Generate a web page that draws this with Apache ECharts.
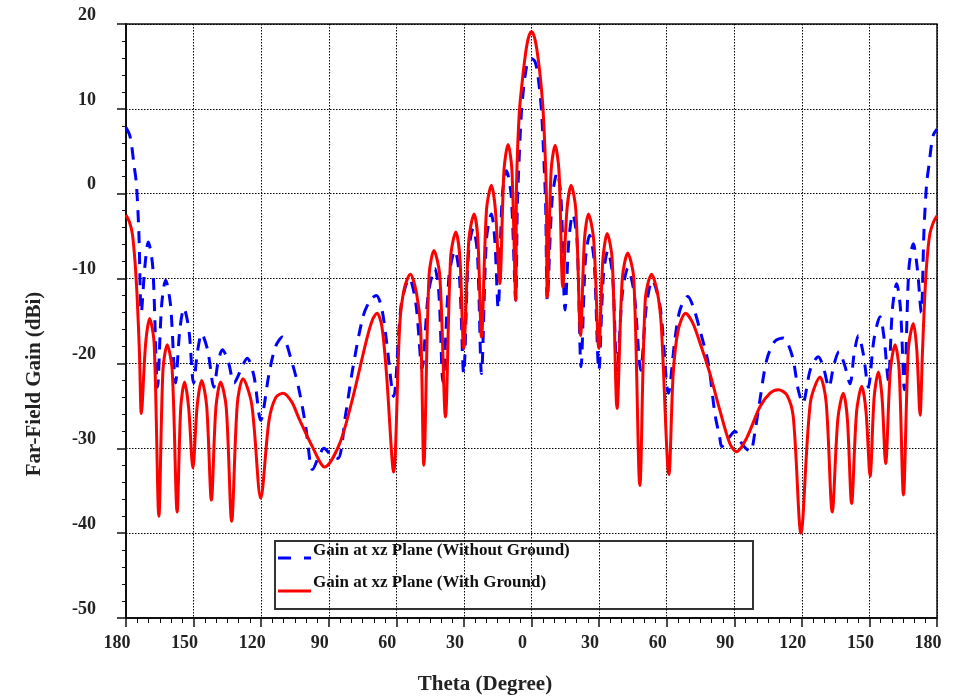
<!DOCTYPE html>
<html>
<head>
<meta charset="utf-8">
<script src="https://cdn.jsdelivr.net/npm/echarts@6/dist/echarts.min.js"></script>
<style>
html,body{margin:0;padding:0;background:#fff;}
#chart{width:959px;height:697px;}
</style>
</head>
<body>
<div id="chart"></div>
<script>
// ---- data (theta in degrees, gain in dBi) ----
const seriesNames = ['Gain at xz Plane (Without Ground)', 'Gain at xz Plane (With Ground)'];
const seriesColors = ['#0000ff', '#ff0000'];

const withoutGround = [
  [-180,7.8],[-178.5,7.0],[-177.6,5.9],[-176.5,3.5],[-175.4,1.2],[-174.3,-4.5],[-173.2,-14],
  [-171.6,-8.5],[-170.1,-5.7],[-168.1,-8.7],[-166,-22.8],
  [-164.2,-13.2],[-162.4,-10.2],[-160.2,-13.2],[-158,-22.3],
  [-156.1,-16.0],[-154.3,-13.5],[-152.1,-16.0],[-150,-22.3],
  [-148.2,-18.5],[-146.4,-16.5],[-143.7,-18.5],[-141,-22.8],
  [-139.1,-19.8],[-137.2,-18.4],[-134.6,-19.8],[-132,-22.3],
  [-129.1,-20.8],[-126.2,-19.4],[-123.2,-21.5],[-120.2,-26.7],
  [-116.5,-21.2],[-113.6,-18.0],[-110.6,-16.9],[-106.2,-20.0],[-103.2,-23.1],[-100.2,-27.5],[-98,-32.2],[-97.3,-32.5],[-94.5,-31],[-92.1,-30],[-89,-30.8],[-85.9,-31.2],
  [-82.5,-26],[-79.2,-20.4],[-74.8,-14.5],[-71.5,-12.5],[-68.9,-12.0],[-66.5,-13.5],[-64.4,-17.3],[-61.2,-23.9],
  [-57.8,-13],[-54.2,-10.0],[-51.3,-13],[-48.6,-20.6],
  [-45.8,-11.8],[-42.9,-8.8],[-41.1,-11.8],[-39.3,-22.2],
  [-36.6,-9.7],[-34,-6.7],[-32,-9.7],[-30.1,-21.2],
  [-28,-7.1],[-25.9,-4.1],[-24,-7.1],[-22.2,-21.2],
  [-20,-5.4],[-17.8,-2.4],[-16.3,-5.4],[-14.8,-13.5],
  [-13,-0.3],[-11.1,2.7],[-9.0,-0.3],[-7.0,-12.5],
  [-6.3,-1.5],[-5.5,4],[-4.5,9.5],[-3.5,12.5],[-2.5,14.5],[-1.5,15.6],[0,15.9],[1.5,15.6],[2.5,14.5],[3.5,12.5],[4.5,9.5],[5.5,4],[6.3,-1.5],[7.0,-12.5],
  [9.2,-0.5],[11.4,2.5],[13.1,-0.5],[14.9,-13.7],
  [16.6,-5.4],[18.3,-2.4],[20.2,-5.4],[22.0,-20.4],
  [23.9,-7.9],[25.8,-4.9],[27.8,-7.9],[29.9,-20.8],
  [31.9,-9.7],[33.9,-6.7],[36,-9.7],[38.0,-21.2],
  [40.3,-11.8],[42.8,-8.8],[45.6,-11.8],[48.5,-20.8],
  [51,-13.2],[53.6,-10.2],[57.2,-13.5],[60.8,-23.5],
  [63.6,-17.3],[65.9,-13.7],[69.4,-12.1],[72,-13.5],[74.8,-16.1],[78.5,-20],[81.4,-25.9],[83.6,-28.8],[84.4,-29.8],[87.5,-28.8],[90.3,-28.0],[93.5,-29.5],[97,-30.4],
  [99.5,-27.5],[101.4,-24.3],[104.4,-19.6],[108,-17.4],[111.8,-17.0],[114,-17.8],[116.2,-19.6],[118.4,-23.1],[120.4,-24.7],
  [123.8,-20.7],[127.3,-19.2],[129.6,-20.5],[132,-22.8],
  [134.2,-20.2],[136.5,-18.6],[139,-20.2],[141.4,-22.4],
  [143.2,-18.9],[145.1,-16.7],[147.3,-18.9],[149.5,-22.8],
  [152,-17.2],[154.7,-14.5],[156.6,-17.2],[158.4,-22.0],
  [160.2,-13.6],[162.1,-10.6],[163.8,-13.6],[165.5,-23.1],
  [167.5,-8.9],[169.5,-5.9],[171.3,-8.9],[173,-14],
  [174.2,-4.5],[175.4,1.2],[176.5,3.5],[177.6,5.9],[178.5,7.0],[180,7.6]
];

const withGround = [
  [-180,-2.5],[-178.5,-3.3],[-177.2,-4.7],[-176,-8],[-175,-12.5],[-174,-19],[-173.2,-25.9],
  [-171.3,-17.7],[-169.5,-14.7],[-167.5,-17.7],[-165.4,-38],
  [-163.6,-20.8],[-161.7,-17.8],[-159.5,-20.8],[-157.3,-37.5],
  [-155.7,-25.2],[-154,-22.2],[-152.2,-25.2],[-150.3,-32.3],
  [-148.4,-25],[-146.4,-22],[-144.2,-25],[-142.1,-36.1],
  [-140.1,-25.2],[-138,-22.2],[-135.5,-25.2],[-133.1,-38.6],
  [-130.6,-24.8],[-128.1,-21.8],[-124.2,-24.8],[-120.2,-35.9],
  [-116.5,-26.7],[-113.5,-24],[-110.3,-23.5],[-106.5,-24.5],[-103.2,-26.5],[-97.3,-29.8],[-91.8,-32.2],
  [-85.1,-29.4],[-79.2,-23.9],[-73.3,-17.3],[-70.5,-14.8],[-68.6,-14.1],[-66.5,-15.5],[-64.4,-21.1],[-61.2,-32.8],
  [-58.5,-15.5],[-56.5,-11.2],[-53.8,-9.5],[-51,-11.8],[-49.2,-16],[-47.8,-32],
  [-45.5,-9.7],[-43.3,-6.7],[-40.7,-9.7],[-38.2,-26.3],
  [-35.9,-7.5],[-33.6,-4.5],[-31.8,-7.5],[-30.1,-18.2],
  [-27.8,-5.4],[-25.5,-2.4],[-23.8,-5.4],[-22.2,-16.9],
  [-20,-2],[-17.8,1],[-16,-2],[-14.1,-10.6],
  [-12.2,2.8],[-10.4,5.8],[-8.7,2.8],[-7,-12.6],
  [-6.7,0],[-6.2,5],[-5.3,10],[-4,13.5],[-3,15.8],[-2,17.6],[-1,18.7],[0,19.1],[1,18.7],[2,17.6],[3,15.8],[4,13.5],[5.1,10],[6,5],[6.6,0],
  [7,-12.2],[8.7,2.7],[10.5,5.7],[12.2,2.7],[13.9,-11],
  [15.7,-2],[17.6,1],[19.7,-2],[21.8,-16.7],
  [23.5,-5.4],[25.3,-2.4],[27.6,-5.4],[29.9,-18.2],
  [31.7,-7.7],[33.6,-4.7],[35.8,-7.7],[38,-25.3],
  [40.3,-10],[42.7,-7],[45.4,-10],[48.1,-34.4],
  [50.5,-12.5],[53.3,-9.5],[55.8,-11.5],[57.6,-15.5],[61,-33.1],
  [62.9,-21.2],[65.1,-16.1],[68.4,-14.1],[71.5,-15.2],[74.8,-17.6],[79.2,-21.2],[83.6,-25.5],[88,-29.4],[91,-30.4],
  [95.5,-28.8],[101.4,-25.1],[105.9,-23.5],[109.5,-23.1],[113.3,-23.7],[116.2,-26.3],[119.6,-40],
  [123.8,-24.6],[128.1,-21.6],[130.8,-24.6],[133.5,-37.5],
  [136,-26.5],[138.4,-23.5],[140.2,-26.5],[142.1,-36.5],
  [144.3,-25.7],[146.6,-22.7],[148.5,-25.7],[150.3,-33.3],
  [152.1,-24],[154,-21],[155.6,-24],[157.2,-31.8],
  [159.3,-20.8],[161.4,-17.8],[163.2,-20.8],[165.1,-35.5],
  [167.3,-18.3],[169.5,-15.3],[171,-18.3],[172.5,-26.1],
  [173.5,-19],[174.5,-12.5],[175.5,-8],[176.8,-4.8],[178.5,-3.3],[180,-2.6]
];

const xRange = [-180, 180, 30];   // min, max, interval
const yRange = [-50, 20, 10];
const xTitle = 'Theta (Degree)';
const yTitle = 'Far-Field Gain (dBi)';

// ---- chart ----
const FONT = '"Liberation Serif", "Times New Roman", serif';
const chart = echarts.init(document.getElementById('chart'), null, {renderer: 'canvas'});
const gridLine = {show: true, lineStyle: {color: '#000', width: 1, type: [1.5, 1.5]}};
const legendText = {fontFamily: FONT, fontWeight: 'bold', fontSize: 17, fill: '#111', align: 'left', verticalAlign: 'middle'};

chart.setOption({
  animation: false,
  backgroundColor: '#fff',
  grid: {left: 126, right: 22, top: 24, bottom: 79, show: true, borderColor: '#111', borderWidth: 1.5, backgroundColor: 'transparent'},
  xAxis: {
    type: 'value', min: xRange[0], max: xRange[1], interval: xRange[2],
    axisLine: {show: true, onZero: false, lineStyle: {color: '#111', width: 2}},
    axisTick: {show: true, length: 9, lineStyle: {color: '#111', width: 1.5}},
    minorTick: {show: true, splitNumber: 6, length: 5, lineStyle: {color: '#111', width: 1}},
    splitLine: gridLine,
    axisLabel: {
      formatter: v => String(Math.abs(v)),
      fontFamily: FONT, fontWeight: 'bold', fontSize: 18, color: '#222',
      margin: 16, padding: [0, 18, 0, 0]
    }
  },
  yAxis: {
    type: 'value', min: yRange[0], max: yRange[1], interval: yRange[2],
    axisLine: {show: true, onZero: false, lineStyle: {color: '#111', width: 2}},
    axisTick: {show: true, length: 9, lineStyle: {color: '#111', width: 1.5}},
    minorTick: {show: true, splitNumber: 5, length: 4, lineStyle: {color: '#111', width: 1}},
    splitLine: gridLine,
    axisLabel: {
      fontFamily: FONT, fontWeight: 'bold', fontSize: 18, color: '#222',
      margin: 30, verticalAlign: 'bottom'
    }
  },
  legend: {show: false, data: seriesNames},
  graphic: [
    {type: 'group', z: 20, children: [
      {type: 'rect', shape: {x: 275, y: 541, width: 478, height: 68},
       style: {fill: '#fff', stroke: '#333', lineWidth: 2}},
      {type: 'line', shape: {x1: 278, y1: 558, x2: 311, y2: 558},
       style: {stroke: seriesColors[0], lineWidth: 3, lineDash: [13, 13]}},
      {type: 'text', x: 313, y: 551, style: Object.assign({text: seriesNames[0]}, legendText)},
      {type: 'line', shape: {x1: 278, y1: 591, x2: 311, y2: 591},
       style: {stroke: seriesColors[1], lineWidth: 3}},
      {type: 'text', x: 313, y: 583, style: Object.assign({text: seriesNames[1]}, legendText)}
    ]},
    {type: 'text', x: 35, y: 384, rotation: Math.PI / 2,
     style: {text: yTitle, fontFamily: FONT, fontWeight: 'bold', fontSize: 21, fill: '#222', align: 'center', verticalAlign: 'middle'}},
    {type: 'text', x: 485, y: 685,
     style: {text: xTitle, fontFamily: FONT, fontWeight: 'bold', fontSize: 21, fill: '#222', align: 'center', verticalAlign: 'middle'}}
  ],
  series: [
    {name: seriesNames[0], type: 'line', data: withoutGround, showSymbol: false, symbol: 'none',
     smooth: 0.3, color: seriesColors[0],
     lineStyle: {color: seriesColors[0], width: 3, type: [12, 9]}, z: 3},
    {name: seriesNames[1], type: 'line', data: withGround, showSymbol: false, symbol: 'none',
     smooth: 0.3, color: seriesColors[1],
     lineStyle: {color: seriesColors[1], width: 3, type: 'solid'}, z: 4}
  ]
});
</script>
</body>
</html>
